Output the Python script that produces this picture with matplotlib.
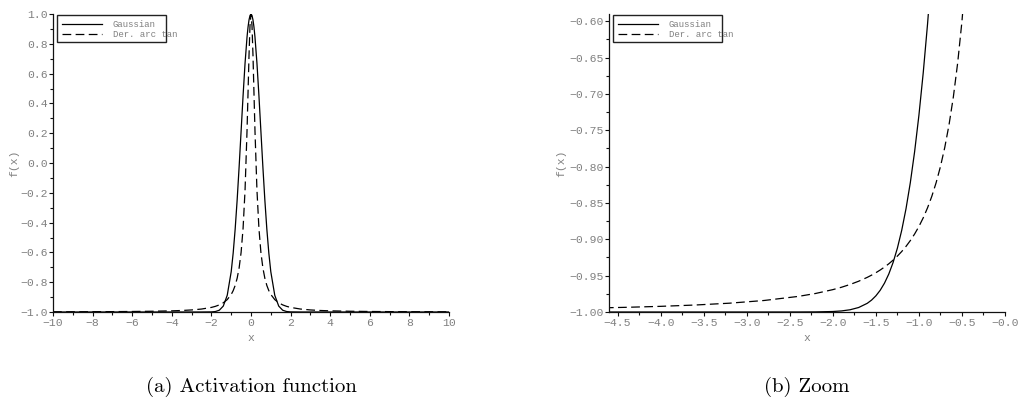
import matplotlib.pyplot as plt
from matplotlib.lines import Line2D
from matplotlib.patches import Rectangle
from matplotlib.ticker import FuncFormatter, MultipleLocator

# ---- panel (a): full view ----
x_full = [-10, -9, -8, -7, -6, -5, -4, -3.5, -3, -2.5, -2, -1.8, -1.6, -1.4,
          -1.2, -1.0, -0.9, -0.8, -0.7, -0.6, -0.5, -0.4, -0.3, -0.2, -0.15,
          -0.1, -0.05, 0, 0.05, 0.1, 0.15, 0.2, 0.3, 0.4, 0.5, 0.6, 0.7, 0.8,
          0.9, 1.0, 1.2, 1.4, 1.6, 1.8, 2, 2.5, 3, 3.5, 4, 5, 6, 7, 8, 9, 10]
gauss_full = [-1.0, -1.0, -1.0, -1.0, -1.0, -1.0, -1.0, -1.0, -1.0, -0.99999,
              -0.99933, -0.99693, -0.98805, -0.96032, -0.88774, -0.72933,
              -0.60420, -0.44393, -0.24938, -0.02650, 0.21306, 0.45230,
              0.67054, 0.84623, 0.91200, 0.96040, 0.99002, 1.0, 0.99002,
              0.96040, 0.91200, 0.84623, 0.67054, 0.45230, 0.21306, -0.02650,
              -0.24938, -0.44393, -0.60420, -0.72933, -0.88774, -0.96032,
              -0.98805, -0.99693, -0.99933, -0.99999, -1.0, -1.0, -1.0, -1.0,
              -1.0, -1.0, -1.0, -1.0, -1.0]
arctan_full = [-0.99875, -0.99846, -0.99805, -0.99745, -0.99653, -0.99501,
               -0.99222, -0.98985, -0.98621, -0.98020, -0.96923, -0.96215,
               -0.95234, -0.93820, -0.91681, -0.88235, -0.85673, -0.82206,
               -0.77376, -0.70414, -0.60000, -0.43820, -0.18033, 0.21951,
               0.47059, 0.72414, 0.92308, 1.0, 0.92308, 0.72414, 0.47059,
               0.21951, -0.18033, -0.43820, -0.60000, -0.70414, -0.77376,
               -0.82206, -0.85673, -0.88235, -0.91681, -0.93820, -0.95234,
               -0.96215, -0.96923, -0.98020, -0.98621, -0.98985, -0.99222,
               -0.99501, -0.99653, -0.99745, -0.99805, -0.99846, -0.99875]

# ---- panel (b): zoom on the left flank ----
x_zoom_gauss = [-4.8, -4.4, -4.0, -3.6, -3.2, -2.8, -2.4, -2.2, -2.0, -1.9,
                -1.8, -1.7, -1.6, -1.55, -1.5, -1.45, -1.4, -1.35, -1.3,
                -1.25, -1.2, -1.15, -1.1, -1.05, -1.0, -0.95, -0.9, -0.85,
                -0.8]
gauss_zoom = [-1.0, -1.0, -1.0, -1.0, -1.0, -1.0, -0.99998, -0.99987,
              -0.99933, -0.99854, -0.99693, -0.99382, -0.98805, -0.98363,
              -0.97778, -0.97016, -0.96032, -0.94776, -0.93191, -0.91213,
              -0.88774, -0.85799, -0.82216, -0.77949, -0.72933, -0.67106,
              -0.60420, -0.52850, -0.44393]
x_zoom_arctan = [-4.8, -4.4, -4.0, -3.6, -3.2, -2.8, -2.4, -2.2, -2.0, -1.9,
                 -1.8, -1.7, -1.6, -1.55, -1.5, -1.45, -1.4, -1.35, -1.3,
                 -1.25, -1.2, -1.15, -1.1, -1.05, -1.0, -0.95, -0.9, -0.85,
                 -0.8, -0.75, -0.7, -0.65, -0.6, -0.55, -0.5, -0.45]
arctan_zoom = [-0.99459, -0.99356, -0.99222, -0.99040, -0.98787, -0.98418,
               -0.97853, -0.97450, -0.96923, -0.96596, -0.96215, -0.95766,
               -0.95234, -0.94929, -0.94595, -0.94226, -0.93820, -0.93369,
               -0.92867, -0.92308, -0.91681, -0.90975, -0.90177, -0.89270,
               -0.88235, -0.87047, -0.85673, -0.84076, -0.82206, -0.80000,
               -0.77376, -0.74227, -0.70414, -0.65753, -0.60000, -0.52830]

series_names = ["Gaussian", "Der. arc tan"]
captions = ["(a) Activation function", "(b) Zoom"]

MONO = "Liberation Mono"
GREY = "#808080"
DASH = (7, 3.5)
FS = 8.2


def style_axes(ax):
    for side in ("top", "right"):
        ax.spines[side].set_visible(False)
    for side in ("left", "bottom"):
        ax.spines[side].set_linewidth(0.9)
        ax.spines[side].set_color("#111111")
    ax.tick_params(which="both", direction="out", color="#111111", width=0.8,
                   labelcolor=GREY, labelsize=FS)
    ax.tick_params(which="major", length=3)
    ax.tick_params(which="minor", length=2.5)
    ax.tick_params(axis="y", which="major", pad=0.5)
    ax.tick_params(axis="x", which="major", pad=1.5)
    for lab in ax.get_xticklabels() + ax.get_yticklabels():
        lab.set_fontfamily(MONO)


def draw_legend(ax):
    ax.add_patch(Rectangle((0.010, 0.905), 0.275, 0.0906, transform=ax.transAxes,
                           fill=False, edgecolor="#222222", linewidth=1.0,
                           clip_on=False, zorder=5))
    rows = [0.9654, 0.9319]
    styles = [dict(linestyle="-"), dict(linestyle=(0, DASH))]
    for y, name, st in zip(rows, series_names, styles):
        ax.add_line(Line2D([0.0227, 0.123], [y, y], transform=ax.transAxes,
                           color="black", linewidth=0.9, clip_on=False, zorder=6, **st))
        ax.text(0.151, y, name, transform=ax.transAxes, fontfamily=MONO,
                fontsize=6.5, color=GREY, va="center", ha="left", zorder=6)


fig = plt.figure(figsize=(10.21, 3.99), dpi=100)
fig.patch.set_facecolor("white")

ax_a = fig.add_axes([53 / 1021, 87 / 399, 396 / 1021, 298 / 399])
ax_b = fig.add_axes([609 / 1021, 87 / 399, 396 / 1021, 298 / 399])

# panel (a)
ax_a.plot(x_full, gauss_full, color="black", lw=0.9)
ax_a.plot(x_full, arctan_full, color="black", lw=0.9, linestyle=(0, DASH))
ax_a.set_xlim(-10, 10)
ax_a.set_ylim(-1.0, 1.0)
ax_a.xaxis.set_major_locator(MultipleLocator(2))
ax_a.xaxis.set_minor_locator(MultipleLocator(1))
ax_a.yaxis.set_major_locator(MultipleLocator(0.2))
ax_a.yaxis.set_minor_locator(MultipleLocator(0.1))
ax_a.xaxis.set_major_formatter(FuncFormatter(lambda v, p: ("\u2212" if v < 0 else "") + f"{abs(v):.0f}"))
ax_a.yaxis.set_major_formatter(FuncFormatter(lambda v, p: ("\u2212" if v < -1e-9 else "") + f"{abs(v):.1f}"))

# panel (b)
ax_b.plot(x_zoom_gauss, gauss_zoom, color="black", lw=0.9)
ax_b.plot(x_zoom_arctan, arctan_zoom, color="black", lw=0.9, linestyle=(0, DASH))
ax_b.set_xlim(-4.6, 0.0)
ax_b.set_ylim(-1.0, -0.59)
ax_b.xaxis.set_major_locator(MultipleLocator(0.5))
ax_b.xaxis.set_minor_locator(MultipleLocator(0.25))
ax_b.yaxis.set_major_locator(MultipleLocator(0.05))
ax_b.yaxis.set_minor_locator(MultipleLocator(0.025))
ax_b.xaxis.set_major_formatter(FuncFormatter(lambda v, p: "\u2212" + f"{abs(v):.1f}"))
ax_b.yaxis.set_major_formatter(FuncFormatter(lambda v, p: ("\u2212" if v < 0 else "") + f"{abs(v):.2f}"))

for ax, yl_x, cap in zip([ax_a, ax_b], [-0.098, -0.12], captions):
    style_axes(ax)
    draw_legend(ax)
    ax.set_xlabel("x", fontfamily=MONO, fontsize=FS, color=GREY, va="center")
    ax.xaxis.set_label_coords(0.5, -0.088)
    ax.set_ylabel("f(x)", fontfamily=MONO, fontsize=FS, color=GREY, va="center")
    ax.yaxis.set_label_coords(yl_x, 0.5)
    pos = ax.get_position()
    fig.text(pos.x0 + pos.width / 2, 12 / 399, cap, fontfamily="cmr10",
             fontsize=15, ha="center", va="center")

fig.savefig("out.png", dpi=100)
